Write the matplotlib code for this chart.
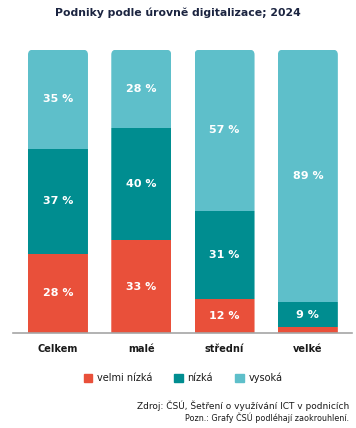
import matplotlib
matplotlib.use("Agg")
import matplotlib.pyplot as plt
from matplotlib.patches import FancyBboxPatch
import numpy as np

categories = ["Celkem", "malé", "střední", "velké"]
velmi_nizka = [28, 33, 12, 2]
nizka = [37, 40, 31, 9]
vysoka = [35, 28, 57, 89]
series_names = ["velmi nízká", "nízká", "vysoká"]
colors = ["#E9503A", "#008D90", "#5EBFCA"]

W, H = 356, 428
fig = plt.figure(figsize=(W / 100, H / 100), dpi=100)
ax_l, ax_r, ax_b, ax_t = 13, 352, 333, 44
ax = fig.add_axes([ax_l / W, 1 - ax_b / H, (ax_r - ax_l) / W, (ax_b - ax_t) / H])

x = np.arange(len(categories))
width = 0.72
ax.set_xlim(-0.54, 3.53)
ax.set_ylim(0, 102)

series = [velmi_nizka, nizka, vysoka]
totals = np.sum(np.array(series, dtype=float), axis=0)
bottom = np.zeros(len(categories))
containers = []
for vals, c in zip(series, colors):
    share = np.array(vals) / totals * 100  # 100 % stacked
    bc = ax.bar(x, share, width, bottom=bottom, color=c, linewidth=0, zorder=2)
    containers.append((bc, np.array(vals), share, bottom.copy()))
    bottom += share

# rounded top corners via clip paths
px_per_x = (ax_r - ax_l) / (3.53 + 0.54)
px_per_y = (ax_b - ax_t) / 102
aspect = px_per_x / px_per_y
r = 5 / px_per_x
for i in range(len(categories)):
    clip = FancyBboxPatch((x[i] - width / 2, -20), width, bottom[i] + 20,
                          boxstyle=f"round,pad=0,rounding_size={r}",
                          mutation_aspect=aspect, transform=ax.transData,
                          facecolor="none", edgecolor="none")
    ax.add_patch(clip)
    clip.set_visible(False)
    for bc, vals, share, bot in containers:
        bc[i].set_clip_path(clip)

for bc, vals, share, bot in containers:
    for i, v in enumerate(vals):
        if v >= 5:
            ax.text(x[i], bot[i] + share[i] / 2, f"{v} %", ha="center", va="center",
                    color="white", fontsize=8, fontweight="bold", zorder=3)

for s in ["top", "right", "left"]:
    ax.spines[s].set_visible(False)
ax.spines["bottom"].set_color("#A6A6A6")
ax.spines["bottom"].set_linewidth(1.2)
ax.set_yticks([])
ax.set_xticks(x)
ax.set_xticklabels(categories, fontsize=7, fontweight="bold", color="#1A1A1A")
ax.tick_params(axis="x", length=0, pad=8)

fig.text(0.5, 1 - 13 / H, "Podniky podle úrovně digitalizace; 2024", ha="center",
         va="center", fontsize=7.8, fontweight="bold", color="#1B2440")

handles = [plt.Rectangle((0, 0), 1, 1, color=c) for c in colors]
fig.legend(handles, series_names, loc="center", bbox_to_anchor=(183 / W, 1 - 378 / H),
           ncol=3, frameon=False, fontsize=7, handlelength=0.85, handleheight=0.85,
           handletextpad=0.5, columnspacing=2.3, labelcolor="#1A1A1A")

fig.text(349 / W, 1 - 406 / H, "Zdroj: ČSÚ, Šetření o využívání ICT v podnicích",
         ha="right", va="center", fontsize=6.5, color="#1A1A1A")
fig.text(349 / W, 1 - 418 / H, "Pozn.: Grafy ČSÚ podléhají zaokrouhlení.",
         ha="right", va="center", fontsize=5.8, color="#1A1A1A")

fig.savefig("out.png", dpi=100)
